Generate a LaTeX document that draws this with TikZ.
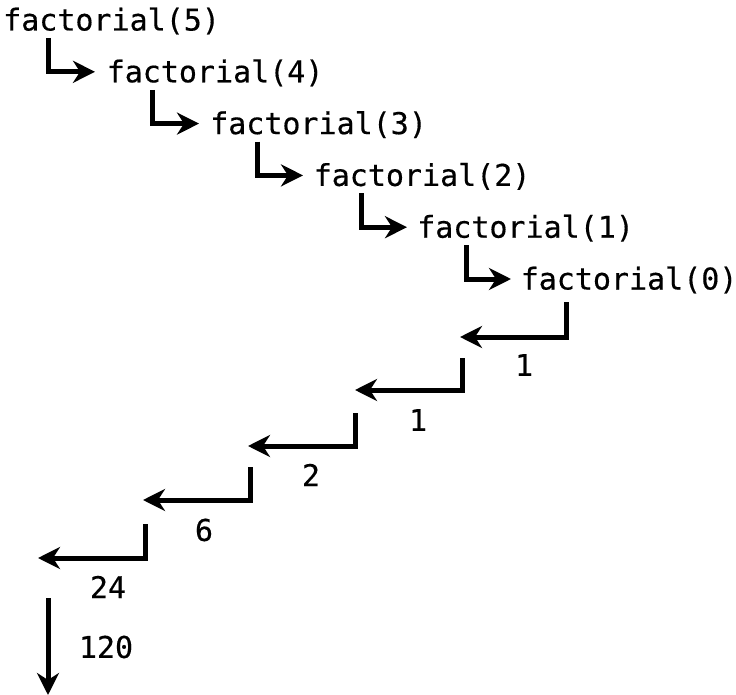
\documentclass[tikz,border=0pt]{standalone}
\usepackage{fontspec}
\setmonofont[FakeBold=0.4]{DejaVu Sans Mono}
\usetikzlibrary{arrows.meta}
\begin{document}
\begin{tikzpicture}[x=1pt,y=-1pt,
  lbl/.style={font=\ttfamily\fontsize{30}{30}\selectfont, inner sep=0pt},
  fcall/.style={lbl, anchor=west},
  arr/.style={line width=5pt, -{Stealth[length=22pt,width=22pt,inset=7pt]}}]
\useasboundingbox (0,0) rectangle (736,695);
\foreach \k/\n in {0/5,1/4,2/3,3/2,4/1,5/0}{
  \node[fcall] (f\n) at ({3+103.5*\k},{21+51.8*\k}) {factorial(\n)};
}
% calls
\foreach \k/\a/\b in {0/5/4,1/4/3,2/3/2,3/2/1,4/1/0}{
  \coordinate (c\a) at ({48+104.5*\k},{38+51.8*\k});
  \coordinate (t\b) at ({95+104*\k},{20+51.8*(\k+1)});
  \draw[arr] (c\a) |- (t\b);
}
% returns
\coordinate (r0) at (566,302); \coordinate (e0) at (460,337);
\coordinate (r1) at (462,358); \coordinate (e1) at (355,390);
\coordinate (r2) at (355,413); \coordinate (e2) at (248,446);
\coordinate (r3) at (250,467); \coordinate (e3) at (143,500);
\coordinate (r4) at (145,524); \coordinate (e4) at (38,558);
\foreach \i in {0,...,4}{ \draw[arr] (r\i) |- (e\i); }
\node[lbl] (v0) at (524,365) {1};
\node[lbl] (v1) at (418,420) {1};
\node[lbl] (v2) at (311,475) {2};
\node[lbl] (v3) at (204,530) {6};
\node[lbl] (v4) at (108,587) {24};
\node[lbl] (v5) at (106,647) {120};
\coordinate (d0) at (48,598);
\coordinate (d1) at (48,695);
\draw[arr] (d0) -- (d1);
\end{tikzpicture}
\end{document}
